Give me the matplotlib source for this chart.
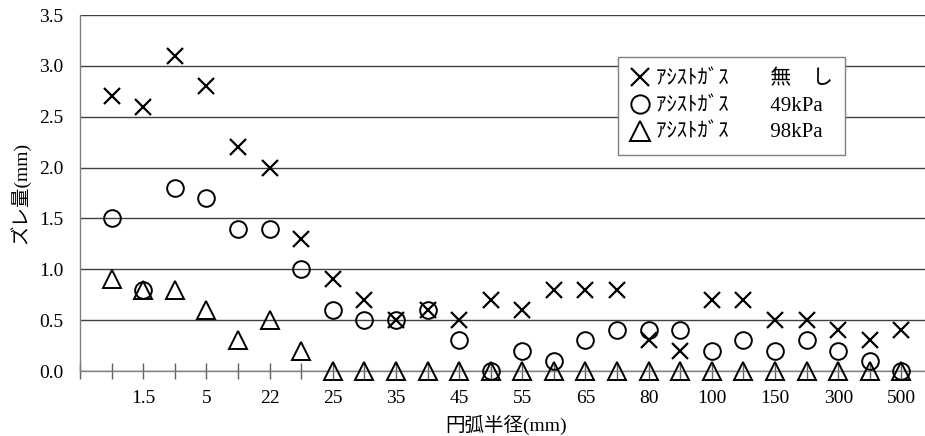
import matplotlib
matplotlib.use("Agg")
import matplotlib.pyplot as plt

plt.rcParams['font.family'] = ['Liberation Serif', 'Noto Sans CJK JP', 'DejaVu Sans']

# arc radius categories (only every other one carries a label)
radius_labels = ['', '1.5', '', '5', '', '22', '', '25', '', '35', '', '45', '',
                 '55', '', '65', '', '80', '', '100', '', '150', '', '300', '', '500']

# deviation (mm) for each assist gas condition
no_gas = [2.7, 2.6, 3.1, 2.8, 2.2, 2.0, 1.3, 0.9, 0.7, 0.5, 0.6, 0.5, 0.7,
          0.6, 0.8, 0.8, 0.8, 0.3, 0.2, 0.7, 0.7, 0.5, 0.5, 0.4, 0.3, 0.4]
gas_49 = [1.5, 0.8, 1.8, 1.7, 1.4, 1.4, 1.0, 0.6, 0.5, 0.5, 0.6, 0.3, 0.0,
          0.2, 0.1, 0.3, 0.4, 0.4, 0.4, 0.2, 0.3, 0.2, 0.3, 0.2, 0.1, 0.0]
gas_98 = [0.9, 0.8, 0.8, 0.6, 0.3, 0.5, 0.2, 0.0, 0.0, 0.0, 0.0, 0.0, 0.0,
          0.0, 0.0, 0.0, 0.0, 0.0, 0.0, 0.0, 0.0, 0.0, 0.0, 0.0, 0.0, 0.0]

series_names = ['ｱｼｽﾄｶﾞｽ　　無　し', 'ｱｼｽﾄｶﾞｽ　　49kPa', 'ｱｼｽﾄｶﾞｽ　　98kPa']

W, H = 925, 436
fig = plt.figure(figsize=(W / 100, H / 100), dpi=100)
# plot area runs a little past the right edge of the image
ax = fig.add_axes([80 / W, 65 / H, 853 / W, 356 / H])

xs = list(range(1, len(radius_labels) + 1))
ax.plot(xs, no_gas, ls='none', marker='x', ms=12, mew=1.6, color='black',
        label=series_names[0], clip_on=False, zorder=3)
ax.plot(xs, gas_49, ls='none', marker='o', ms=12, mew=1.4, mfc='none', color='black',
        label=series_names[1], clip_on=False, zorder=3)
ax.plot(xs, gas_98, ls='none', marker='^', ms=13, mew=1.4, mfc='none', color='black',
        label=series_names[2], clip_on=False, zorder=3)

ax.set_xlim(0, len(radius_labels) + 1)
ax.set_ylim(0, 3.5)
ax.set_yticks([0.0, 0.5, 1.0, 1.5, 2.0, 2.5, 3.0, 3.5])
ax.set_yticklabels([f'{v:.1f}' for v in ax.get_yticks()])
ax.set_xticks([0] + xs)
ax.set_xticklabels([''] + radius_labels)

ax.yaxis.grid(True, color='#404040', lw=1)
ax.set_axisbelow(True)
for side in ['top', 'right']:
    ax.spines[side].set_visible(False)
for side in ['left', 'bottom']:
    ax.spines[side].set_color('#808080')
    ax.spines[side].set_linewidth(1)

ax.tick_params(axis='y', length=0, pad=12, labelsize=14)
ax.tick_params(axis='x', direction='inout', length=12, width=1, color='#606060',
               pad=8, labelsize=14)

ax.set_ylabel('ズレ量(mm)', fontsize=14, va='center')
ax.yaxis.set_label_coords(-60 / 853, 0.5)
ax.set_xlabel('円弧半径(mm)', fontsize=14, va='center')
ax.xaxis.set_label_coords(0.5, -54 / 356)

leg = ax.legend(loc='upper left', bbox_to_anchor=(618 / W, 1 - 57 / H),
                bbox_transform=fig.transFigure, frameon=True, fancybox=False,
                framealpha=1, edgecolor='#808080', fontsize=15, handlelength=0.9,
                handletextpad=0.3, labelspacing=0.35, borderpad=0.6,
                borderaxespad=0, markerscale=1.1)
leg.get_frame().set_linewidth(1)

fig.savefig('out.png', dpi=100)
